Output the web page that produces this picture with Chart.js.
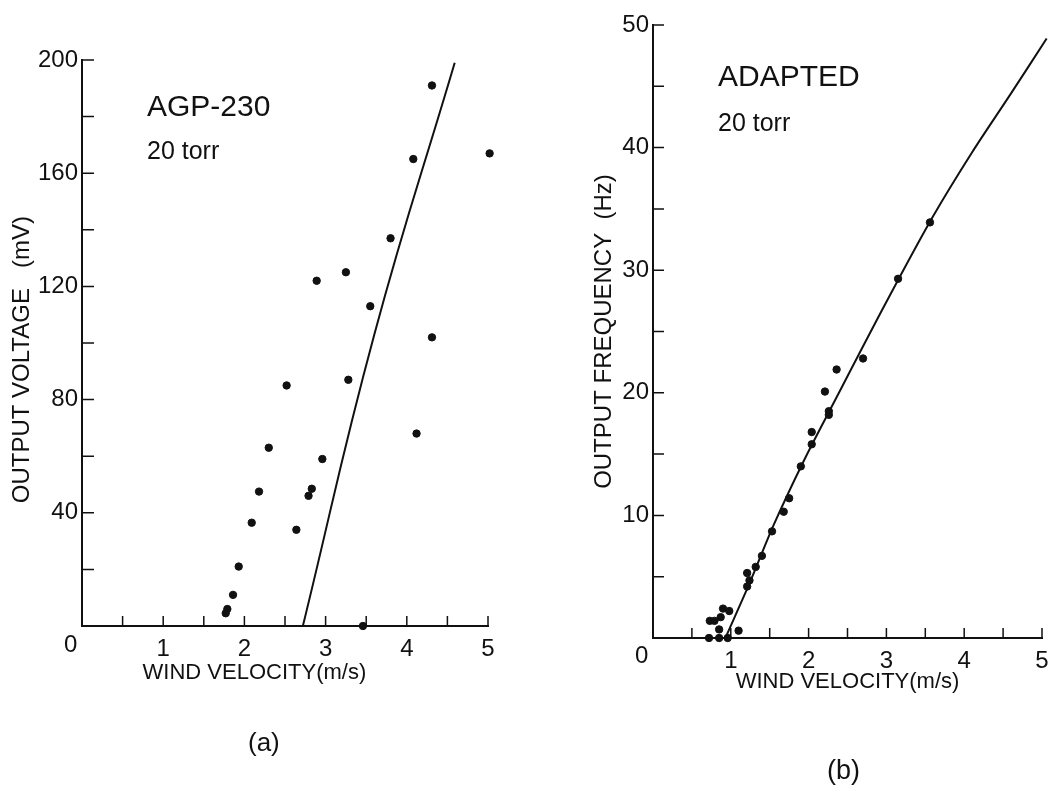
<!DOCTYPE html>
<html lang="en">
<head>
  <meta charset="UTF-8" />
  <title>Wind velocity response</title>
  <script src="https://cdn.jsdelivr.net/npm/chart.js"></script>
  <style>
    body {
      margin: 0;
      padding: 0;
      background: #fff;
      color: #111;
      font-family: 'Liberation Sans', Arial, sans-serif;
      overflow: hidden;
      width: 1048px;
      height: 786px;
      position: relative;
    }
    canvas { position: absolute; top: 0; }
    #chartA { left: 0; }
    #chartB { left: 560px; }
    .note {
      position: absolute;
      line-height: 1;
      white-space: pre;
      color: #111;
    }
  </style>
</head>
<body>
  <canvas id="chartA" width="560" height="786"></canvas>
  <canvas id="chartB" width="520" height="786"></canvas>

  <div class="note" style="left:147px; top:91px; font-size:30px;">AGP-230</div>
  <div class="note" style="left:147px; top:138px; font-size:25px;">20 torr</div>
  <div class="note" style="left:718px; top:61px; font-size:30px;">ADAPTED</div>
  <div class="note" style="left:718px; top:110px; font-size:25px;">20 torr</div>
  <div class="note" style="left:64px; top:632px; font-size:24px;">0</div>
  <div class="note" style="left:635px; top:643px; font-size:24px;">0</div>
  <div class="note" style="left:248px; top:729px; font-size:26px;">(a)</div>
  <div class="note" style="left:827px; top:757px; font-size:27px;">(b)</div>

  <script>
    // (a) AGP-230, 20 torr
    const agpVelocity = [4.31, 4.08, 5.02, 3.80, 3.25, 2.89, 3.55, 4.31, 2.52, 3.28, 4.12, 2.30,
                         2.96, 2.18, 2.83, 2.79, 2.09, 2.64, 1.93, 1.86, 1.79, 1.77, 3.46];
    const agpVoltage  = [191, 165, 167, 137, 125, 122, 113, 102, 85, 87, 68, 63,
                         59, 47.5, 48.5, 46, 36.5, 34, 21, 11, 6, 4.5, 0];
    const agpFitVelocity = [2.72, 3.60, 4.59];
    const agpFitVoltage  = [0, 103, 199];

    // (b) adapted, 20 torr
    const adaptedVelocity = [3.56, 3.15, 2.70, 2.36, 2.21, 2.26, 2.26, 2.04, 2.04, 1.90, 1.75, 1.68,
                             1.53, 1.40, 1.32, 1.21, 1.24, 1.21, 0.90, 0.98, 0.87, 0.73, 0.79, 0.85,
                             1.10, 0.72, 0.85, 0.96];
    const adaptedFreq = [33.9, 29.3, 22.8, 21.9, 20.1, 18.5, 18.2, 16.8, 15.8, 14.0, 11.4, 10.3,
                         8.7, 6.7, 5.8, 5.3, 4.7, 4.2, 2.4, 2.2, 1.7, 1.4, 1.4, 0.7,
                         0.6, 0, 0, 0];
    const adaptedFitVelocity = [0.93, 1.25, 1.55, 1.95, 2.39, 2.70, 3.15, 3.60, 4.10, 4.60, 5.06];
    const adaptedFitFreq     = [0, 4.6, 9.2, 14.6, 20.0, 23.8, 29.2, 34.4, 39.6, 44.4, 48.9];

    // tick labels
    const velocityTicks = [1, 2, 3, 4, 5];
    const voltageTicks = [40, 80, 120, 160, 200];
    const freqTicks = [10, 20, 30, 40, 50];

    const ink = '#111';
    const fontFamily = "'Liberation Sans', Arial, sans-serif";
    Chart.defaults.color = ink;
    Chart.defaults.font.family = fontFamily;

    const toPoints = (xs, ys) => xs.map((x, i) => ({ x: x, y: ys[i] }));

    // short tick marks pointing into the plot
    const innerTicks = {
      id: 'innerTicks',
      afterDraw(chart, args, opts) {
        const { ctx, chartArea } = chart;
        const xs = chart.scales.x, ys = chart.scales.y;
        ctx.save();
        ctx.strokeStyle = ink;
        ctx.lineWidth = 1.5;
        ctx.beginPath();
        xs.ticks.forEach(t => {
          if (t.value === 0) return;
          const px = xs.getPixelForValue(t.value);
          ctx.moveTo(px, chartArea.bottom);
          ctx.lineTo(px, chartArea.bottom - opts.xLen);
        });
        ys.ticks.forEach(t => {
          if (t.value === 0) return;
          const py = ys.getPixelForValue(t.value);
          ctx.moveTo(chartArea.left, py);
          ctx.lineTo(chartArea.left + opts.yLen, py);
        });
        ctx.stroke();
        ctx.restore();
      }
    };

    function makeChart(id, cfg) {
      return new Chart(document.getElementById(id), {
        type: 'scatter',
        data: {
          datasets: [
            {
              data: toPoints(cfg.px, cfg.py),
              backgroundColor: ink,
              borderColor: ink,
              pointRadius: 3.7,
              pointHoverRadius: 3.7,
              clip: false
            },
            {
              data: toPoints(cfg.lx, cfg.ly),
              showLine: true,
              borderColor: ink,
              borderWidth: 2,
              pointRadius: 0,
              tension: cfg.tension,
              clip: false
            }
          ]
        },
        plugins: [innerTicks],
        options: {
          responsive: false,
          animation: false,
          events: [],
          layout: { padding: cfg.padding },
          plugins: {
            legend: { display: false },
            tooltip: { enabled: false },
            innerTicks: { xLen: 10, yLen: cfg.yTickLen }
          },
          scales: {
            x: {
              type: 'linear',
              min: 0,
              max: 5,
              grid: { display: false, drawTicks: false },
              border: { display: true, color: ink, width: 2 },
              ticks: {
                stepSize: 0.5,
                padding: cfg.xTickPad,
                maxRotation: 0,
                autoSkip: false,
                font: { size: 24 },
                callback: v => velocityTicks.includes(v) ? String(v) : ''
              },
              title: {
                display: true,
                text: cfg.xTitle,
                font: { size: 22 },
                padding: { top: 0, bottom: cfg.xTitlePad }
              },
              afterFit: s => { s.height = 70; }
            },
            y: {
              type: 'linear',
              min: 0,
              max: cfg.yMax,
              grid: { display: false, drawTicks: false },
              border: { display: true, color: ink, width: 2 },
              ticks: {
                stepSize: cfg.yStep,
                padding: 4,
                autoSkip: false,
                font: { size: 24 },
                callback: v => cfg.yLabels.includes(v) ? String(v) : ''
              },
              title: {
                display: true,
                text: cfg.yTitle,
                font: { size: 24 },
                padding: { top: cfg.yTitlePad, bottom: 0 }
              },
              afterFit: s => { s.width = cfg.yWidth; }
            }
          }
        }
      });
    }

    makeChart('chartA', {
      px: agpVelocity, py: agpVoltage,
      lx: agpFitVelocity, ly: agpFitVoltage,
      tension: 0.45,
      padding: { left: 0, right: 72, top: 60, bottom: 90 },
      yWidth: 82,
      yMax: 200, yStep: 20, yLabels: voltageTicks,
      yTickLen: 12,
      xTickPad: 9,
      xTitle: 'WIND VELOCITY(m/s)          ',
      xTitlePad: 10,
      yTitle: 'OUTPUT VOLTAGE   (mV)     ',
      yTitlePad: 8
    });

    makeChart('chartB', {
      px: adaptedVelocity, py: adaptedFreq,
      lx: adaptedFitVelocity, ly: adaptedFitFreq,
      tension: 0.3,
      padding: { left: 0, right: 38, top: 25, bottom: 78 },
      yWidth: 93,
      yMax: 50, yStep: 5, yLabels: freqTicks,
      yTickLen: 11,
      xTickPad: 9,
      xTitle: 'WIND VELOCITY(m/s)',
      xTitlePad: 13,
      yTitle: 'OUTPUT FREQUENCY  (Hz)',
      yTitlePad: 30
    });
  </script>
</body>
</html>
